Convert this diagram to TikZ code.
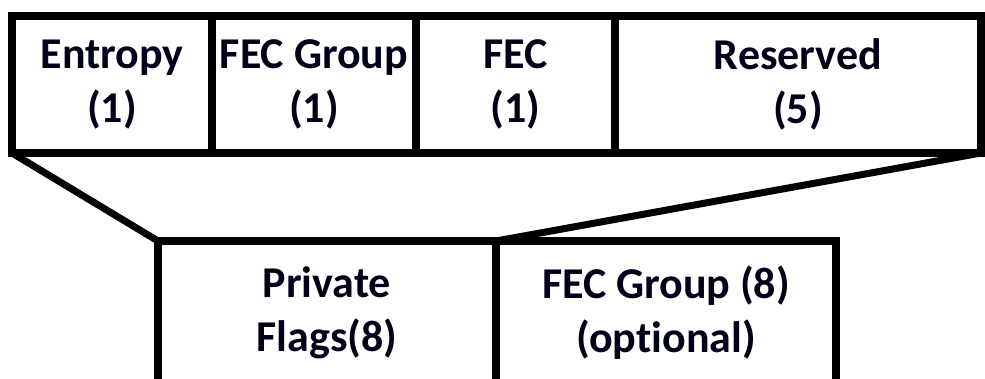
\documentclass[tikz,border=0pt]{standalone}
\usepackage{fontspec}
\setmainfont[Ligatures=NoCommon]{Carlito}
\begin{document}
\begin{tikzpicture}[x=1pt,y=-1pt,
  cell/.style={draw=black,line width=8pt,fill=white,inner sep=0pt,outer sep=0pt,
    align=center,font=\fontsize{44}{54}\selectfont\bfseries,text=black!90!blue},
  link/.style={draw=black,line width=7pt}]
\useasboundingbox (0,0) rectangle (985,378);
\begin{scope}
\clip (0,0) rectangle (985,378);
\node[cell,minimum width=200pt,minimum height=137pt] (ent) at (112,84.5) {Entropy\\(1)};
\node[cell,minimum width=204pt,minimum height=137pt] (fg) at (314,84.5) {FEC Group\\(1)};
\node[cell,minimum width=199pt,minimum height=137pt] (fec) at (515.5,84.5) {FEC\\(1)};
\node[cell,minimum width=366pt,minimum height=137pt] (res) at (798,84.5) {Reserved\\(5)};
\node[cell,minimum width=338pt,minimum height=144pt] (pf) at (327,313) {Private\\Flags(8)};
\node[cell,minimum width=340pt,minimum height=144pt] (opt) at (666,313) {FEC Group (8)\\(optional)};
\draw[link] (ent.south west) -- (pf.north west);
\draw[link] (res.south east) -- (opt.north west);
\end{scope}
\end{tikzpicture}
\end{document}
